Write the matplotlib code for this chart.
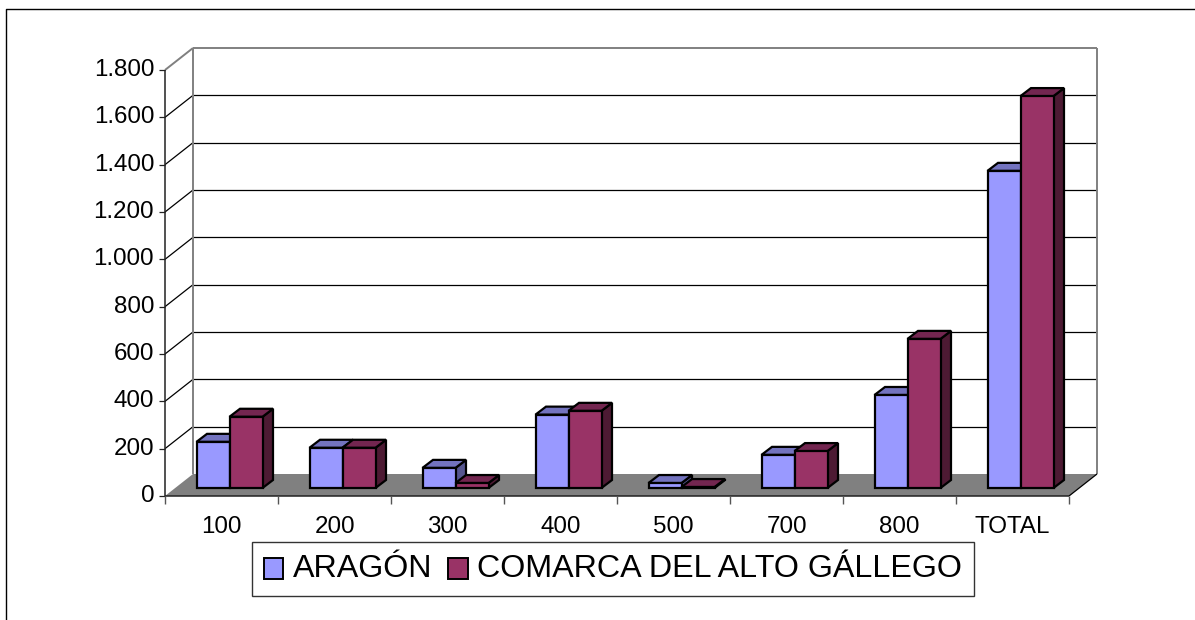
import matplotlib
matplotlib.use("Agg")
import matplotlib.pyplot as plt
from matplotlib.patches import Patch

plt.rcParams["font.family"] = ["Liberation Sans", "DejaVu Sans"]

categorias = ["100", "200", "300", "400", "500", "700", "800", "TOTAL"]
aragon = [195, 170, 85, 310, 21, 140, 393, 1340]
comarca = [301, 170, 21, 326, 4, 156, 630, 1656]
ticks_y = [0, 200, 400, 600, 800, 1000, 1200, 1400, 1600, 1800]
etiquetas_y = ["0", "200", "400", "600", "800", "1.000", "1.200", "1.400", "1.600", "1.800"]

W, H = 1195, 620
# axe avant en pixels
x0, x1, y0, y1 = 165, 1069, 496, 70
fig = plt.figure(figsize=(W / 100, H / 100), dpi=100)
ax = fig.add_axes([x0 / W, 1 - y0 / H, (x1 - x0) / W, (y0 - y1) / H])
ax.set_xlim(0, len(categorias))
ax.set_ylim(0, 1800)
ax.axis("off")

px = len(categorias) / (x1 - x0)  # 1 px en x (categories)
py = 1800 / (y0 - y1)             # 1 px en y (valeurs)
dx, dy = 28 * px, 22 * py         # profondeur du fond


def poly(xs, ys, fc, ec="none", lw=0.0, z=2):
    ax.fill(xs, ys, facecolor=fc, edgecolor=ec, linewidth=lw, clip_on=False, zorder=z, joinstyle="miter")


def trait(xs, ys, c="black", lw=1.0, z=1):
    ax.plot(xs, ys, color=c, lw=lw, clip_on=False, zorder=z, solid_capstyle="butt")


n = len(categorias)
gris = "#808080"

# sol
poly([0, n, n + dx, dx], [0, 0, dy, dy], gris, z=1)

# grille du fond et des cotes
for t in ticks_y[1:-1]:
    trait([dx, n + dx], [t + dy, t + dy], "black", 0.9)
    trait([0, dx], [t, t + dy], "black", 0.9)
trait([dx, n + dx], [1800 + dy, 1800 + dy], gris, 1.4)
trait([0, dx], [1800, 1800 + dy], gris, 1.4)
trait([dx, dx], [dy, 1800 + dy], gris, 1.4)
trait([n + dx, n + dx], [dy, 1800 + dy], gris, 1.4)
trait([n, n + dx], [0, dy], "black", 0.9)

# axes avant
trait([0, 0], [0, 1800], "#222222", 1.1, 3)
trait([0, n], [0, 0], "#222222", 1.1, 3)
for t, lab in zip(ticks_y, etiquetas_y):
    trait([-6 * px, 0], [t, t], "#222222", 0.9, 3)
    ax.text(-11 * px, t, lab, ha="right", va="center", fontsize=17.4, color="black", clip_on=False)
for i in range(n + 1):
    trait([i, i], [0, -8 * py], "#555555", 1.0, 3)
for i, lab in enumerate(categorias):
    ax.text(i + 0.5, -31 * py, lab, ha="center", va="center", fontsize=17.4, color="black")

# barres 3D
larg = 33 * px
bx, by = 8 * px, 8 * py     # decalage du devant de barre
ex, ey = 10.5 * px, 8 * py  # epaisseur de barre
series = [(aragon, "#9999FF", "#7373BF", "#56568F"), (comarca, "#993366", "#732650", "#4D1A33")]
for i in range(n):
    for k, (vals, c, c_top, c_side) in enumerate(series):
        v = vals[i]
        xa = i + 0.5 - larg + bx + (k * larg)
        xb = xa + larg
        ya = by
        yb = by + v
        z = 4 + i + k * 0.1
        poly([xb, xb + ex, xb + ex, xb], [ya, ya + ey, yb + ey, yb], c_side, "black", 1.6, z)
        poly([xa, xb, xb + ex, xa + ex], [yb, yb, yb + ey, yb + ey], c_top, "black", 1.6, z)
        poly([xa, xb, xb, xa], [ya, ya, yb, yb], c, "black", 1.6, z + 0.01)

# legende
poignees = [Patch(facecolor="#9999FF", edgecolor="black", linewidth=1.4),
            Patch(facecolor="#993366", edgecolor="black", linewidth=1.4)]
leg = fig.legend(poignees, ["ARAGÓN", "COMARCA DEL ALTO GÁLLEGO"], ncol=2, fontsize=23.2,
                 loc="center", bbox_to_anchor=(613 / W, 1 - 569 / H), frameon=True, fancybox=False,
                 framealpha=1, edgecolor="#333333", handlelength=0.6, handleheight=0.6,
                 handletextpad=0.3, columnspacing=0.5, borderpad=0.36, borderaxespad=0)
leg.get_frame().set_linewidth(1.0)
for h in leg.legend_handles:
    h.set_y(h.get_y() - 2)

# cadre exterieur, ouvert en bas et a droite
fig.add_artist(plt.Line2D([6.5 / W, 6.5 / W, 1195 / W],
                          [0, 1 - 8.5 / H, 1 - 8.5 / H], color="black", lw=1.0))

fig.savefig("out.png", dpi=100)
